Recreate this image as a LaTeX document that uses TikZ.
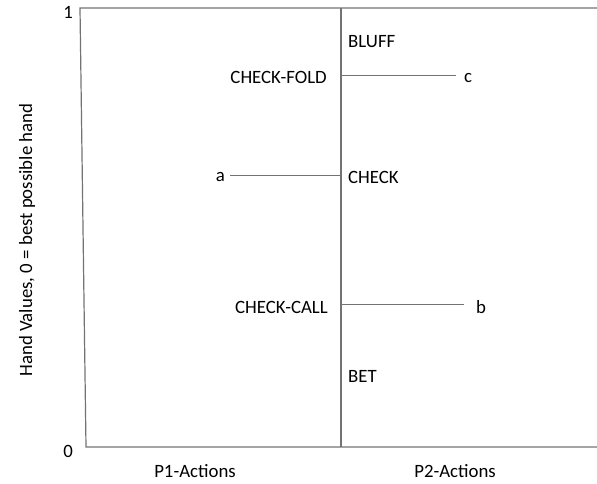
\documentclass[tikz,border=0pt]{standalone}
\usepackage{fontspec}
\setmainfont{Carlito}
\usepackage{xcolor}
\usepackage{tikz}
\usetikzlibrary{positioning}

\begin{document}
\begin{tikzpicture}[
    x=1pt, y=-1pt,
    axis/.style={draw=gray!90!black, line width=1.2pt},
    level/.style={draw=gray!90!black, line width=1pt},
    lbl/.style={font=\fontsize{18.8}{21}\selectfont, inner sep=0pt},
]
\useasboundingbox (0,0) rectangle (597,483);

% frame
\coordinate (tl) at (80,8);
\coordinate (tr) at (597,8);
\coordinate (bl) at (86,447);
\coordinate (br) at (597,447);
\coordinate (mtop) at (341,8);
\coordinate (mbot) at (341,447);
\draw[axis] (tr) -- (tl) -- (bl) -- (br);
\draw[axis] (mtop) -- (mbot);

% axis labels
\node[lbl, anchor=east] (one) at (73,12) {1};
\node[lbl, anchor=east] (zero) at (73,451) {0};
\node[lbl, rotate=90] (yaxis) at (27,240) {Hand Values, 0 = best possible hand};
\node[lbl] (p1) at (195,471) {P1-Actions};
\node[lbl] (p2) at (455,471) {P2-Actions};

% actions
\node[lbl, anchor=west] (bluff) at (348,42) {BLUFF};
\node[lbl, anchor=east] (checkfold) at (327,77) {CHECK-FOLD};
\node[lbl, anchor=west] (check) at (348,177) {CHECK};
\node[lbl, anchor=east] (checkcall) at (328,307) {CHECK-CALL};
\node[lbl, anchor=west] (bet) at (348,376) {BET};

% thresholds
\coordinate (cl) at (341,75);
\coordinate (al) at (341,175);
\coordinate (bl2) at (341,304);
\node[lbl, anchor=west] (c) at (464,78) {c};
\node[lbl, anchor=east] (a) at (225,177) {a};
\node[lbl, anchor=west] (b) at (476,307) {b};
\draw[level] (cl) -- ([xshift=-8pt]c.west |- cl);
\draw[level] ([xshift=5pt]a.east |- al) -- (al);
\draw[level] (bl2) -- ([xshift=-12pt]b.west |- bl2);

\end{tikzpicture}
\end{document}
